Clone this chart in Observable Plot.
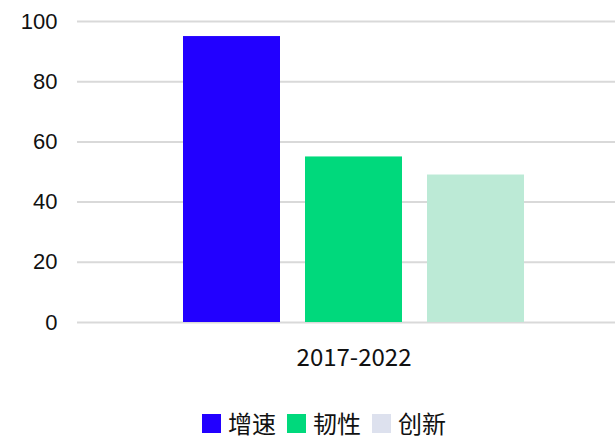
<!DOCTYPE html>
<html><head><meta charset="utf-8">
<script src="https://cdn.jsdelivr.net/npm/d3@7"></script>
<script src="https://cdn.jsdelivr.net/npm/@observablehq/plot@0.6"></script>
<style>
body{margin:0;background:#fff;width:615px;height:442px;overflow:hidden}
#chart svg{display:block}
#legend{display:flex;align-items:center;height:26px;margin-top:20px;padding-left:202px;font-family:"Noto Sans CJK SC",sans-serif;font-size:24px;color:#111}
#legend .sw{width:19px;height:19px;margin-right:7px}
#legend .it{display:flex;align-items:center;margin-right:11px}
#legend .tx{display:block;line-height:26px;height:26px}
</style></head><body>
<div id="chart"></div>
<div id="legend"></div>
<script>
const period = "2017-2022";
const series = ["增速", "韧性", "创新"];
const values = [95, 55, 49];
const barColors = ["#2200ff", "#00d97c", "#bceAd6"];
const legendColors = ["#2200ff", "#00d97c", "#dde1ee"];
const yTicks = [0, 20, 40, 60, 80, 100];

const data = series.map((s, i) => ({series: s, value: values[i]}));

const chart = Plot.plot({
  width: 615, height: 390,
  marginLeft: 77, marginRight: 0, marginTop: 21, marginBottom: 68,
  style: {fontFamily: "'Liberation Sans', Arial, sans-serif", fontSize: "22px", color: "#111", background: "#fff"},
  x: {type: "band", domain: series, range: [169.5, 536.5], paddingInner: 0.205, paddingOuter: 0.1025, axis: null},
  y: {domain: [0, 100], ticks: yTicks, label: null, grid: false},
  color: {domain: series, range: barColors},
  marks: [
    Plot.ruleY(yTicks, {stroke: "#d9d9d9", strokeWidth: 2}),
    Plot.axisY(yTicks, {tickSize: 0, tickPadding: 20, label: null, fontSize: 22}),
    Plot.barY(data, {x: "series", y: "value", fill: "series"}),
    Plot.text([period], {x: () => series[1], y: () => 0, text: d => d, dy: 43, fontSize: 24, fontFamily: "'Noto Sans CJK SC', sans-serif", lineAnchor: "bottom", fill: "#111"})
  ]
});
document.getElementById("chart").append(chart);

const lg = document.getElementById("legend");
series.forEach((s, i) => {
  const it = document.createElement("div"); it.className = "it";
  const sw = document.createElement("div"); sw.className = "sw"; sw.style.background = legendColors[i];
  const t = document.createElement("span"); t.className = "tx"; t.textContent = s;
  it.append(sw, t); lg.append(it);
});
</script>
</body></html>
